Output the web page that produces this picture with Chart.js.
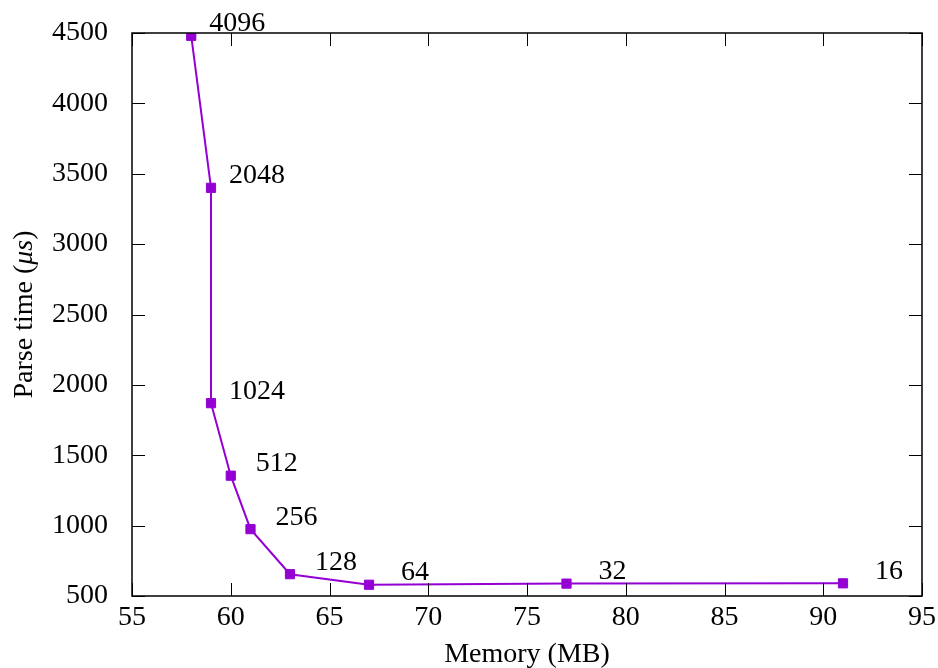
<!DOCTYPE html>
<html>
<head>
<meta charset="utf-8">
<script src="https://cdn.jsdelivr.net/npm/chart.js@4/dist/chart.umd.min.js"></script>
<style>
  html, body { margin: 0; padding: 0; background: #fff; }
  #wrap { width: 938px; height: 668px; }
</style>
</head>
<body>
<div id="wrap"><canvas id="c" width="938" height="668"></canvas></div>
<script>
// Block size per run, memory used (MB) and parse time (µs)
const blockSizes = ['4096', '2048', '1024', '512', '256', '128', '64', '32', '16'];
const memoryMB   = [58, 59, 59, 60, 61, 63, 67, 77, 91];
const parseTime  = [4480, 3400, 1870, 1355, 975, 655, 580, 588, 590];

const xTicks = [55, 60, 65, 70, 75, 80, 85, 90, 95];
const yTicks = [500, 1000, 1500, 2000, 2500, 3000, 3500, 4000, 4500];

const FONT = '"Liberation Serif", "DejaVu Serif", serif';
const FSIZE = 28;
const LINE_COLOR = '#9400D3';

// Frame with inward (mirrored) ticks, axis titles and point labels
const decor = {
  id: 'decor',
  afterDatasetsDraw(chart) {
    const { ctx, chartArea: a, scales: { x, y } } = chart;
    const T = 13;
    ctx.save();
    ctx.strokeStyle = '#000';
    ctx.lineWidth = 1;
    ctx.beginPath();
    xTicks.forEach(v => {
      const px = Math.round(x.getPixelForValue(v)) + 0.5;
      ctx.moveTo(px, a.bottom); ctx.lineTo(px, a.bottom - T);
      ctx.moveTo(px, a.top); ctx.lineTo(px, a.top + T);
    });
    yTicks.forEach(v => {
      const py = Math.round(y.getPixelForValue(v)) + 0.5;
      ctx.moveTo(a.left, py); ctx.lineTo(a.left + T, py);
      ctx.moveTo(a.right, py); ctx.lineTo(a.right - T, py);
    });
    ctx.stroke();
    ctx.lineWidth = 1.5;
    ctx.strokeRect(a.left, a.top, a.right - a.left, a.bottom - a.top);

    // point labels
    ctx.fillStyle = '#000';
    ctx.font = `${FSIZE}px ${FONT}`;
    ctx.textAlign = 'center';
    ctx.textBaseline = 'middle';
    const meta = chart.getDatasetMeta(0);
    meta.data.forEach((pt, i) => {
      ctx.fillText(blockSizes[i], pt.x + 46, pt.y - 12);
    });

    // x axis title
    ctx.fillText('Memory (MB)', (a.left + a.right) / 2, 655);

    // y axis title with italic unit
    ctx.translate(25, (a.top + a.bottom) / 2);
    ctx.rotate(-Math.PI / 2);
    const parts = [
      { t: 'Parse time (', f: `${FSIZE}px ${FONT}` },
      { t: 'μs', f: `italic ${FSIZE}px ${FONT}` },
      { t: ')', f: `${FSIZE}px ${FONT}` }
    ];
    let total = 0;
    parts.forEach(p => { ctx.font = p.f; p.w = ctx.measureText(p.t).width; total += p.w; });
    let cx = -total / 2;
    ctx.textAlign = 'left';
    parts.forEach(p => { ctx.font = p.f; ctx.fillText(p.t, cx, 0); cx += p.w; });
    ctx.restore();
  }
};

new Chart(document.getElementById('c'), {
  type: 'line',
  data: {
    datasets: [{
      data: memoryMB.map((m, i) => ({ x: m, y: parseTime[i] })),
      borderColor: LINE_COLOR,
      backgroundColor: LINE_COLOR,
      borderWidth: 2,
      pointStyle: 'rect',
      pointRadius: 6.5,
      pointBorderWidth: 1,
      tension: 0,
      fill: false
    }]
  },
  options: {
    responsive: false,
    animation: false,
    layout: { padding: { left: 0, top: 33, right: 16, bottom: 0 } },
    plugins: { legend: { display: false }, tooltip: { enabled: false } },
    scales: {
      x: {
        type: 'linear',
        min: 55, max: 95,
        afterBuildTicks: s => { s.ticks = xTicks.map(v => ({ value: v })); },
        afterFit: s => { s.height = 72; s.paddingLeft = 0; s.paddingRight = 0; },
        grid: { display: false, drawTicks: false, tickLength: 0 },
        border: { display: false },
        ticks: { color: '#000', padding: 5, maxRotation: 0, callback: v => String(v),
                 font: { family: FONT, size: FSIZE } }
      },
      y: {
        type: 'linear',
        min: 500, max: 4500,
        afterBuildTicks: s => { s.ticks = yTicks.map(v => ({ value: v })); },
        afterFit: s => { s.width = 132; s.paddingTop = 0; s.paddingBottom = 0; },
        grid: { display: false, drawTicks: false, tickLength: 0 },
        border: { display: false },
        ticks: { color: '#000', padding: 24, callback: v => String(v),
                 font: { family: FONT, size: FSIZE } }
      }
    }
  },
  plugins: [decor]
});
</script>
</body>
</html>
